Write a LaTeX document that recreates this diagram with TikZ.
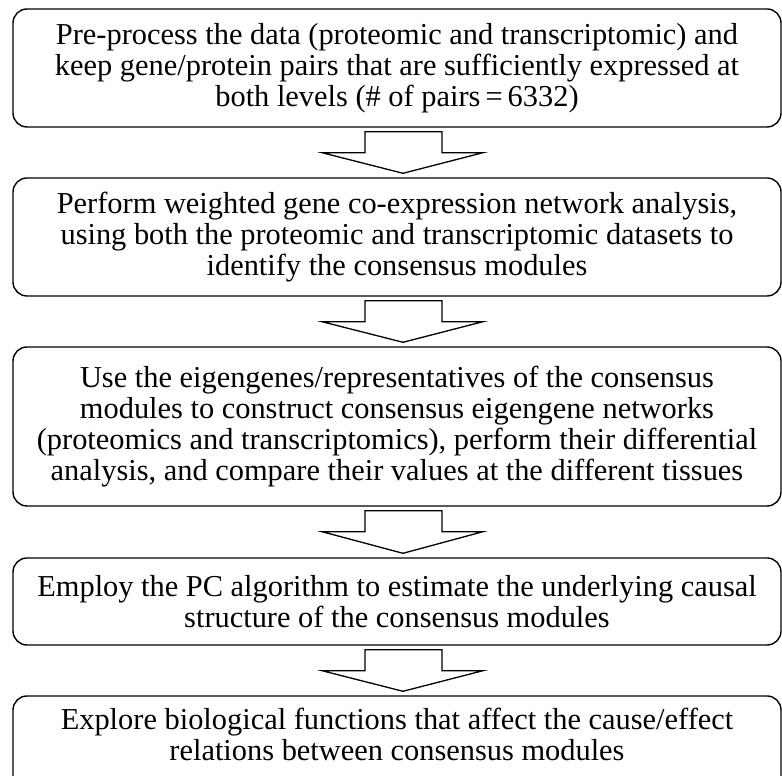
\documentclass[tikz,border=0pt]{standalone}
\usepackage{fontspec}
\setmainfont{Liberation Serif}
\usetikzlibrary{calc}

% hollow block arrow between two stacked steps
\newcommand\steparrow[2]{%
  \draw[flowarrow] let \p1=(#1.south), \p2=(#2.north) in
    (\x1-32pt,\y1-4pt) -- (\x1+45pt,\y1-4pt) -- (\x1+45pt,\y1-25pt)
    -- (\x1+86pt,\y1-25pt) -- (\x1+6pt,\y2+4pt) -- (\x1-75pt,\y1-25pt)
    -- (\x1-32pt,\y1-25pt) -- cycle;}

\begin{document}
\begin{tikzpicture}[x=1pt,y=1pt,
  stepbox/.style={draw, line width=1.4pt, rounded corners=14pt,
    minimum width=768pt, inner sep=0pt, align=center,
    font=\fontsize{30.4}{31}\selectfont},
  flowarrow/.style={draw, fill=white, line width=1.3pt, line join=miter}]
\useasboundingbox (0,0) rectangle (782,776);
\clip (0,0) rectangle (782,776);

\node[stepbox, minimum height=118pt] (s1) at (397,708)
  {Pre-process the data (proteomic and transcriptomic) and\\
   keep gene/protein pairs that are sufficiently expressed at\\
   both levels (\# of pairs\,=\,6332)};
\node[stepbox, minimum height=118pt] (s2) at (397,539)
  {Perform weighted gene co-expression network analysis,\\
   using both the proteomic and transcriptomic datasets to\\
   identify the consensus modules};
\node[stepbox, minimum height=159pt] (s3) at (397,349.5)
  {Use the eigengenes/representatives of the consensus\\
   modules to construct consensus eigengene networks\\
   (proteomics and transcriptomics), perform their differential\\
   analysis, and compare their values at the different tissues};
\node[stepbox, minimum height=87pt] (s4) at (397,174.5)
  {Employ the PC algorithm to estimate the underlying causal\\
   structure of the consensus modules};
% last step runs past the lower edge; an empty line lifts its text a little
\node[stepbox, minimum height=94pt] (s5) at (397,33)
  {Explore biological functions that affect the cause/effect\\
   relations between consensus modules\\[-14pt]\mbox{}};

\steparrow{s1}{s2}
\steparrow{s2}{s3}
\steparrow{s3}{s4}
\steparrow{s4}{s5}
\end{tikzpicture}
\end{document}
